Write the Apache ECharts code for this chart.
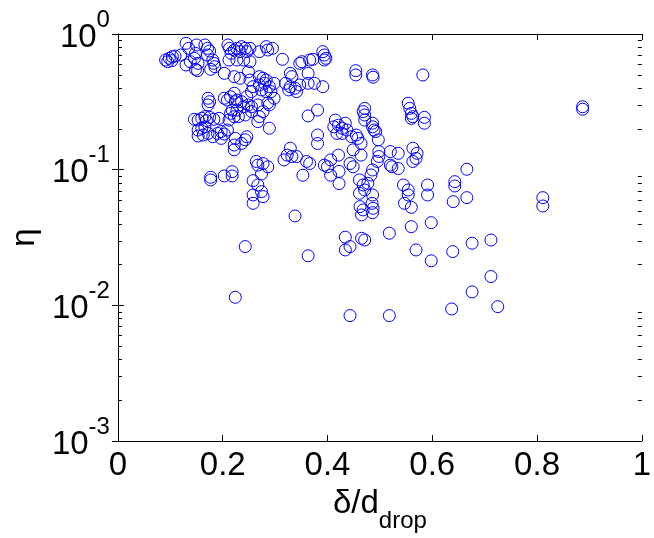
<!DOCTYPE html>
<html><head><meta charset="utf-8">
<script src="https://cdn.jsdelivr.net/npm/echarts@6/dist/echarts.min.js"></script>
<style>html,body{margin:0;padding:0;background:#fff}#c{width:654px;height:538px}</style>
</head><body><div id="c"></div>
<script>
// x tick values and y decade ticks
const xTicks = [0, 0.2, 0.4, 0.6, 0.8, 1];
const yDecades = [0.001, 0.01, 0.1, 1];
// delta/d_drop values
const xValues = [
0.091,0.098,0.104,0.109,0.103,0.095,0.120,0.130,0.135,0.138,0.130,0.146,0.148,0.150,0.153,0.148,0.152,0.166,0.171,0.171,0.175,0.181,0.183,0.177,0.185,0.203,0.210,0.213,0.216,0.212,0.222,0.222,
0.172,0.175,0.172,0.166,0.146,0.153,0.160,0.169,0.175,0.183,0.193,0.203,0.209,0.215,0.222,0.224,0.218,0.222,0.153,0.160,0.166,0.153,0.163,0.172,0.181,0.190,0.197,0.203,0.197,0.209,0.222,0.224,0.222,
0.227,0.236,0.243,0.252,0.233,0.246,0.227,0.240,0.252,0.270,0.283,0.295,0.286,0.314,0.351,0.347,0.366,0.372,0.391,0.394,0.397,0.394,
0.249,0.233,0.252,0.270,0.277,0.283,0.280,0.270,0.289,0.298,0.258,0.255,0.274,0.283,0.292,0.320,0.329,0.332,0.329,0.326,0.338,0.341,0.347,0.363,0.363,0.375,0.391,
0.227,0.236,0.246,0.249,0.255,0.240,0.227,0.215,0.212,0.230,0.243,0.255,0.267,0.270,0.267,0.289,0.289,0.286,0.298,0.277,
0.363,0.381,0.415,0.421,0.412,0.428,0.434,0.428,0.437,0.446,0.381,0.381,0.418,
0.246,0.243,0.236,
0.329,0.323,0.317,0.332,0.341,0.360,0.366,0.264,0.267,0.277,0.286,0.406,0.421,0.443,0.449,0.394,0.400,
0.454,0.454,0.486,0.487,0.582,0.471,0.468,0.471,0.471,0.486,0.486,0.489,0.492,0.497,0.455,0.458,0.464,0.449,0.464,0.498,0.498,0.495,0.520,0.535,0.520,0.523,0.535,0.554,0.557,0.560,0.563,0.560,0.585,0.585,0.563,0.571,0.569,0.563,0.486,0.483,0.461,0.468,0.477,0.471,0.461,0.486,0.545,0.554,0.554,0.591,0.591,0.643,0.643,
0.887,0.887,0.666,0.666,0.811,0.811,0.676,0.712,0.712,0.676,0.725,
0.177,0.177,0.203,0.218,0.218,0.258,0.258,0.258,0.267,0.274,0.277,0.338,0.243,0.363,0.224,0.434,0.434,0.443,0.465,0.471,0.518,0.518,0.443,0.560,0.569,0.598,0.598,0.637,0.639,0.547,0.560,0.640,0.485,0.487,0.486,0.462,0.468,0.465,0.274,0.353,0.406,0.422,0.422
];
// eta values
const etaValues = [
0.643,0.662,0.68,0.688,0.636,0.625,0.70,0.854,0.784,0.625,0.591,0.662,0.72,0.83,0.608,0.549,0.537,0.83,0.784,0.70,0.75,0.643,0.608,0.549,0.574,0.513,0.83,0.784,0.72,0.643,0.76,0.485,
0.336,0.317,0.30,0.246,0.235,0.232,0.239,0.23,0.243,0.235,0.239,0.336,0.326,0.345,0.366,0.317,0.275,0.246,0.196,0.202,0.207,0.177,0.180,0.185,0.175,0.185,0.191,0.183,0.170,0.196,0.152,0.17,0.14,
0.784,0.807,0.784,0.784,0.741,0.741,0.643,0.643,0.625,0.741,0.807,0.784,0.762,0.651,0.625,0.608,0.643,0.651,0.741,0.70,0.662,0.643,
0.527,0.472,0.458,0.485,0.472,0.458,0.433,0.421,0.409,0.433,0.409,0.376,0.387,0.376,0.376,0.433,0.513,0.485,0.409,0.387,0.398,0.376,0.421,0.513,0.433,0.433,0.409,
0.326,0.317,0.345,0.30,0.291,0.291,0.275,0.26,0.232,0.246,0.253,0.268,0.30,0.246,0.226,0.30,0.202,0.31,0.336,0.268,
0.249,0.275,0.232,0.213,0.207,0.202,0.22,0.185,0.196,0.175,0.18,0.156,0.185,
0.175,0.166,0.156,
0.144,0.128,0.118,0.125,0.125,0.115,0.111,0.115,0.108,0.111,0.105,0.118,0.128,0.111,0.105,0.108,0.105,
0.537,0.499,0.499,0.48,0.499,0.283,0.268,0.253,0.232,0.22,0.207,0.196,0.191,0.166,0.18,0.17,0.156,0.14,0.128,0.136,0.125,0.115,0.136,0.132,0.108,0.105,0.102,0.309,0.283,0.26,0.246,0.239,0.243,0.22,0.144,0.132,0.121,0.115,0.0995,0.0914,0.084,0.0771,0.0794,0.0708,0.067,0.0651,0.0771,0.0708,0.0651,0.0771,0.0651,0.0816,0.0758,
0.291,0.279,0.1007,0.0622,0.0622,0.054,0.0287,0.0303,0.0163,0.01256,0.00978,
0.0879,0.084,0.0899,0.0967,0.0899,0.083,0.0651,0.0565,0.0771,0.0689,0.0633,0.0456,0.0271,0.0232,0.01146,0.0318,0.0256,0.0271,0.0312,0.0303,0.034,0.0084,0.0084,0.038,0.0256,0.0407,0.0213,0.0094,0.0249,0.0565,0.0528,0.0581,0.0565,0.0519,0.0482,0.0534,0.0505,0.0464,0.093,0.091,0.091,0.097,0.079
];

const FONT = "'Liberation Sans', Arial, sans-serif";
const points = xValues.map((x, i) => [x, etaValues[i]]);
const chart = echarts.init(document.getElementById('c'), null, {renderer: 'canvas'});

const axisLineStyle = {color: '#000', width: 1};
const yLabelFmt = v => {
  const e = Math.round(Math.log10(v));
  return '{b|10}{s|' + (e === 0 ? '0' : '-' + Math.abs(e)) + '}';
};

chart.setOption({
  animation: false,
  backgroundColor: '#fff',
  grid: {left: 107, right: 6, top: 34, bottom: 97, containLabel: false},
  xAxis: [{
    type: 'value', min: 0, max: 1, interval: 0.2, position: 'bottom',
    axisLine: {show: true, lineStyle: axisLineStyle},
    axisTick: {show: true, inside: true, length: 6, lineStyle: axisLineStyle},
    splitLine: {show: false},
    axisLabel: {show: true, margin: 8, color: '#000', fontSize: 33, fontFamily: FONT,
      formatter: v => xTicks.indexOf(v) >= 0 ? String(v) : ''},
    name: '{a|δ/d}{b|drop}', nameLocation: 'middle', nameGap: 46,
    nameTextStyle: {rich: {
      a: {fontSize: 33, fontFamily: FONT, color: '#000', lineHeight: 46, verticalAlign: 'top'},
      b: {fontSize: 24, fontFamily: FONT, color: '#000', lineHeight: 46, verticalAlign: 'bottom'}
    }}
  }, {
    type: 'value', min: 0, max: 1, interval: 0.2, position: 'top',
    axisLine: {show: true, lineStyle: axisLineStyle},
    axisTick: {show: true, inside: true, length: 6, lineStyle: axisLineStyle},
    splitLine: {show: false}, axisLabel: {show: false}
  }],
  yAxis: [{
    type: 'log', logBase: 10, min: yDecades[0], max: yDecades[yDecades.length - 1], position: 'left',
    axisLine: {show: true, lineStyle: axisLineStyle},
    axisTick: {show: true, inside: true, length: 6, lineStyle: axisLineStyle},
    splitLine: {show: false},
    axisLabel: {show: true, margin: 8, padding: [0, 0, 6, 0], formatter: yLabelFmt, rich: {
      b: {fontSize: 33, fontFamily: FONT, color: '#000', lineHeight: 46, verticalAlign: 'bottom'},
      s: {fontSize: 24, fontFamily: FONT, color: '#000', lineHeight: 46, verticalAlign: 'top'}
    }},
    name: 'η', nameLocation: 'middle', nameGap: 60, nameRotate: 90,
    nameTextStyle: {fontSize: 33, fontFamily: FONT, color: '#000'}
  }, {
    type: 'log', logBase: 10, min: yDecades[0], max: yDecades[yDecades.length - 1], position: 'right',
    axisLine: {show: true, lineStyle: axisLineStyle},
    axisTick: {show: true, inside: true, length: 6, lineStyle: axisLineStyle},
    splitLine: {show: false}, axisLabel: {show: false}
  }],
  series: [{
    type: 'scatter', xAxisIndex: 0, yAxisIndex: 0, data: points,
    symbol: 'circle', symbolSize: 12,
    itemStyle: {color: 'rgba(0,0,0,0)', borderColor: '#0000ff', borderWidth: 1, opacity: 1},
    emphasis: {disabled: true}
  }]
});

// log minor ticks (2..9 x 10^k) on left and right axes, positioned by the axis scale
const minor = [];
const xl = chart.convertToPixel({xAxisIndex: 0}, 0);
const xr = chart.convertToPixel({xAxisIndex: 0}, 1);
for (let k = -3; k < 0; k++) {
  for (let m = 2; m <= 9; m++) {
    const py = Math.round(chart.convertToPixel({yAxisIndex: 0}, m * Math.pow(10, k))) + 0.5;
    minor.push({type: 'line', shape: {x1: xl, y1: py, x2: xl + 4, y2: py}, style: {stroke: '#000', lineWidth: 1}, silent: true});
    minor.push({type: 'line', shape: {x1: xr - 4, y1: py, x2: xr, y2: py}, style: {stroke: '#000', lineWidth: 1}, silent: true});
  }
}
chart.setOption({graphic: minor});
</script>
</body></html>
